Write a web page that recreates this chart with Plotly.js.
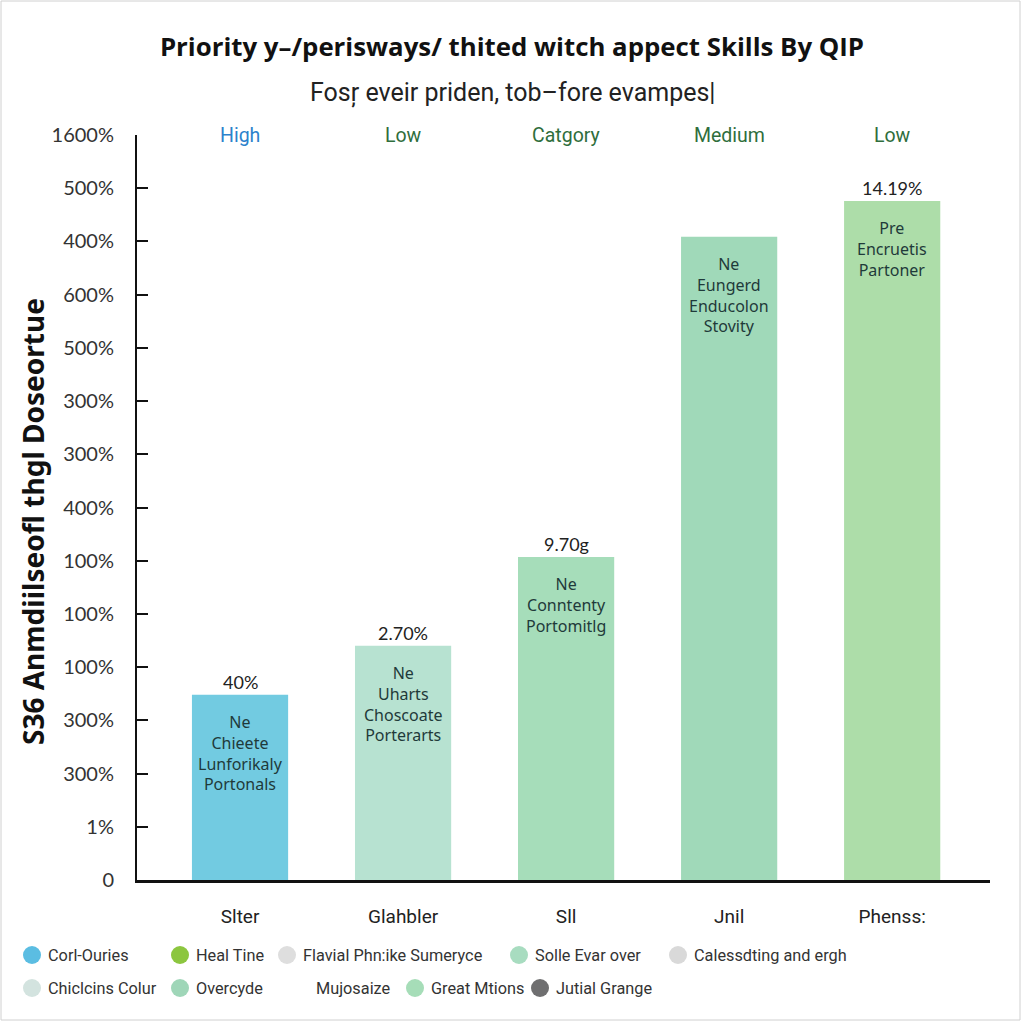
<!DOCTYPE html>
<html>
<head>
<meta charset="utf-8">
<script src="https://cdn.plot.ly/plotly-3.0.1.min.js"></script>
<style>html,body{margin:0;padding:0;background:#fff;}#chart{width:1024px;height:1024px;}</style>
</head>
<body>
<div id="chart"></div>
<script>
// ---- data ----
const categories = ["Slter", "Glahbler", "Sll", "Jnil", "Phenss:"];
const values = [3.48, 4.40, 6.07, 12.09, 12.76];
const valueLabels = ["40%", "2.70%", "9.70g", "", "14.19%"];
const barTexts = [
  "Ne<br>Chieete<br>Lunforikaly<br>Portonals",
  "Ne<br>Uharts<br>Choscoate<br>Porterarts",
  "Ne<br>Conntenty<br>Portomitlg",
  "Ne<br>Eungerd<br>Enducolon<br>Stovity",
  "Pre<br>Encruetis<br>Partoner"
];
const barColors = ["#72cbe1", "#b7e2d1", "#a6ddba", "#a0d9b9", "#addda9"];
const topLabels = ["High", "Low", "Catgory", "Medium", "Low"];
const topLabelColors = ["#2b82cc", "#2f6e3c", "#2f6e3c", "#2f6e3c", "#2f6e3c"];
const yTickVals = [0,1,2,3,4,5,6,7,8,9,10,11,12,13,14];
const yTickText = ["0","1%","300%","300%","100%","100%","100%","400%","300%","300%","500%","600%","400%","500%","1600%"];
const yTitle = "S36 Anmdiilseofl thgl Doseortue";
const legendNames = ["Corl-Ouries","Heal Tine","Flavial Phn:ike Sumeryce","Solle Evar over","Calessdting and ergh",
                     "Chiclcins Colur","Overcyde","Mujosaize","Great Mtions","Jutial Grange"];
const legendColors = ["#5bbde2","#8cc63f","#dedede","#a8dcc0","#d9d9d9",
                      "#d3e3df","#9fd6b8",null,"#a6ddb8","#6f6f70"];

// ---- layout helpers (positions) ----
const legendX = [32,180,287,519,678, 32,180,300,415,540];
const legendY = [955,955,955,955,955, 988,988,988,988,988];
const px2x = p => (p-137)/853;
const px2y = p => (880-p)/745;

const annotations = [];
const shapes = [];
categories.forEach((c,i)=>{
  if (valueLabels[i]) annotations.push({x:i, y:values[i], xref:'x', yref:'y', text:valueLabels[i], showarrow:false,
    yanchor:'bottom', yshift:0, font:{family:'Lato, Noto Sans, sans-serif', size:18, color:'#222'}});
  annotations.push({x:i, y:values[i], xref:'x', yref:'y', text:barTexts[i], showarrow:false,
    yanchor:'top', yshift:-14, font:{family:'Noto Sans, sans-serif', size:16, color:'#1f3a3a'}});
  annotations.push({x:i, y:1, xref:'x', yref:'paper', text:topLabels[i], showarrow:false,
    yanchor:'middle', font:{family:'Roboto, Noto Sans, sans-serif', size:19.5, color:topLabelColors[i]}});
});
legendNames.forEach((n,i)=>{
  const px = legendX[i], py = legendY[i];
  if (legendColors[i]) shapes.push({type:'circle', xref:'paper', yref:'paper', layer:'above',
    x0:px2x(px-9), x1:px2x(px+9), y0:px2y(py+9), y1:px2y(py-9),
    fillcolor:legendColors[i], line:{width:0}});
  annotations.push({x:px2x(px+14), y:px2y(py), xref:'paper', yref:'paper', text:n, showarrow:false,
    xanchor:'left', yanchor:'middle', font:{family:'Roboto, Noto Sans, sans-serif', size:16.3, color:'#333'}});
});
annotations.push({x:px2x(512), y:px2y(93), xref:'paper', yref:'paper', text:"Fosŗ eveir priden, tob–fore evampes|",
  showarrow:false, xanchor:'center', yanchor:'middle', font:{family:'Roboto, Noto Sans, sans-serif', size:25, color:'#222'}});
annotations.push({x:px2x(33), y:px2y(522), xref:'paper', yref:'paper', text:"<b>"+yTitle+"</b>", textangle:-90,
  showarrow:false, xanchor:'center', yanchor:'middle', font:{family:'Noto Sans, sans-serif', size:28, color:'#111'}});
shapes.push({type:'rect', xref:'paper', yref:'paper', x0:px2x(1), x1:px2x(1020), y0:px2y(1020), y1:px2y(1),
  line:{color:'#d0d0d0', width:1}, layer:'below'});

const trace = {
  type:'bar', x:[0,1,2,3,4], y:values, width:0.59,
  marker:{color:barColors, line:{width:0}}, hoverinfo:'none'
};

const layout = {
  width:1024, height:1024,
  margin:{l:137, r:34, t:135, b:144},
  paper_bgcolor:'#ffffff', plot_bgcolor:'#ffffff',
  showlegend:false,
  title:{text:"<b>Priority y–/perisways/ thited witch appect Skills By QIP</b>", x:0.5, xanchor:'center', y:1-47/1024, yanchor:'middle',
    font:{family:'Open Sans, sans-serif', size:25.8, color:'#111'}},
  xaxis:{range:[-0.632,4.60], tickvals:[0,1,2,3,4], ticktext:categories, showgrid:false, zeroline:false,
    showline:true, linecolor:'#111', linewidth:2.5, ticks:'', ticklabelstandoff:18,
    tickfont:{family:'Roboto, Noto Sans, sans-serif', size:19, color:'#222'}},
  yaxis:{range:[0,14], tickvals:yTickVals, ticktext:yTickText, showgrid:false, zeroline:false,
    showline:true, linecolor:'#111', linewidth:2, ticks:'inside', ticklen:11, tickwidth:2, tickcolor:'#111',
    ticklabelstandoff:17,
    tickfont:{family:'Lato, Noto Sans, sans-serif', size:20, color:'#333'}},
  annotations:annotations, shapes:shapes,
  bargap:0.41
};

Plotly.newPlot('chart', [trace], layout, {staticPlot:true, displayModeBar:false});
</script>
</body>
</html>
